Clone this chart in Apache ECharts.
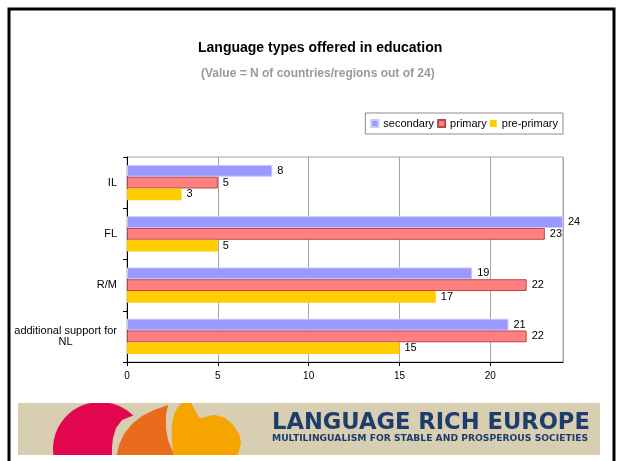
<!DOCTYPE html>
<html>
<head>
<meta charset="utf-8">
<script src="https://cdn.jsdelivr.net/npm/echarts@6/dist/echarts.min.js"></script>
<style>
  html, body { margin: 0; padding: 0; background: #fff; }
  #chart { width: 619px; height: 461px; }
</style>
</head>
<body>
<div id="chart"></div>
<script>
// Categories listed bottom-up (category axis grows upwards)
const categories = ['additional support for\nNL', 'R/M', 'FL', 'IL'];
const secondary  = [21, 19, 24, 8];
const primary    = [22, 22, 23, 5];
const prePrimary = [15, 17, 5, 3];
const xTicks = [0, 5, 10, 15, 20];

const FONT = '"Liberation Sans", Arial, sans-serif';
const LOGO_FONT = '"DejaVu Sans", "Liberation Sans", sans-serif';
const BEIGE = '#d8ceb2';

const chart = echarts.init(document.getElementById('chart'), null, { renderer: 'canvas' });

const valueLabel = {
  show: true, position: 'right', distance: 5,
  color: '#000', fontSize: 11, fontFamily: FONT
};

chart.setOption({
  backgroundColor: '#fff',
  animation: false,
  title: [
    {
      text: 'Language types offered in education',
      left: 193, top: 36,
      textStyle: { fontFamily: FONT, fontSize: 14, fontWeight: 'bold', color: '#000' }
    },
    {
      text: '(Value = N of countries/regions out of 24)',
      left: 196, top: 63,
      textStyle: { fontFamily: FONT, fontSize: 12, fontWeight: 'bold', color: '#9a9a9a' }
    }
  ],
  legend: {
    data: ['secondary', 'primary', 'pre-primary'],
    right: 56,
    top: 113,
    itemWidth: 7,
    itemHeight: 7,
    itemGap: 3,
    padding: [5, 5, 5, 5],
    borderColor: '#8c8c8c',
    borderWidth: 1,
    icon: 'rect',
    textStyle: { fontFamily: FONT, fontSize: 11, color: '#000' }
  },
  grid: {
    left: 127, right: 56, top: 157, bottom: 99,
    show: true, borderColor: '#a6a6a6', borderWidth: 1
  },
  xAxis: {
    type: 'value',
    min: 0, max: 24, interval: 5,
    axisLine: { show: true, lineStyle: { color: '#000', width: 1 } },
    axisTick: { show: true, length: 4, lineStyle: { color: '#000' } },
    axisLabel: {
      fontFamily: FONT, fontSize: 10, color: '#000', margin: 9,
      showMaxLabel: false,
      formatter: v => (xTicks.indexOf(v) >= 0 ? String(v) : '')
    },
    splitLine: { show: true, lineStyle: { color: '#a6a6a6', width: 1 } }
  },
  yAxis: {
    type: 'category',
    data: categories,
    axisLine: { show: true, lineStyle: { color: '#000', width: 1 } },
    axisTick: { show: true, length: 4, lineStyle: { color: '#000' } },
    axisLabel: {
      margin: 10,
      formatter: v => v.split('\n').map(s => '{c|' + s + '}').join('\n'),
      rich: { c: { fontFamily: FONT, fontSize: 11, color: '#000', align: 'center', lineHeight: 11 } }
    },
    splitLine: { show: false }
  },
  series: [
    {
      name: 'secondary', type: 'bar', data: secondary,
      barCategoryGap: '31%', barGap: '0%',
      itemStyle: { color: '#9999ff', borderColor: '#c8c8ff', borderWidth: 1 },
      label: valueLabel
    },
    {
      name: 'primary', type: 'bar', data: primary,
      barCategoryGap: '31%', barGap: '0%',
      itemStyle: { color: '#ff8080', borderColor: '#b84848', borderWidth: 1 },
      label: valueLabel
    },
    {
      name: 'pre-primary', type: 'bar', data: prePrimary,
      barCategoryGap: '31%', barGap: '0%',
      itemStyle: { color: '#ffcc00' },
      label: valueLabel
    }
  ],
  graphic: [
    // banner band
    { type: 'rect', shape: { x: 18, y: 403, width: 582, height: 52 },
      style: { fill: BEIGE }, silent: true },
    // crimson disc
    { type: 'circle', shape: { cx: 100, cy: 449, r: 47 },
      style: { fill: '#e2064f' }, silent: true },
    // bite taken out of the disc
    { type: 'polygon', silent: true,
      shape: { points: [[145, 414], [132, 416], [122, 420], [116, 428], [113, 438], [112, 447],
        [112, 458], [170, 458], [170, 398], [145, 398]] },
      style: { fill: BEIGE } },
    // orange leaf
    { type: 'polygon', silent: true,
      shape: { points: [[116, 458], [119, 445], [124, 434], [132, 424], [142, 416], [154, 410],
        [168, 405], [166, 415], [166, 428], [168, 440], [172, 450], [175, 458]] },
      style: { fill: '#e96b1c' } },
    // amber bubble
    { type: 'polygon', silent: true,
      shape: { smooth: 0.2, points: [[175, 458], [172, 440], [172, 425], [175, 412], [181, 404],
        [190, 402], [195, 410], [200, 418], [206, 417], [214, 415], [225, 418], [233, 425],
        [239, 434], [241, 443], [239, 451], [236, 458]] },
      style: { fill: '#f6a500' } },
    // trim shapes to the band
    { type: 'rect', shape: { x: 0, y: 455, width: 619, height: 6 },
      style: { fill: '#fff' }, silent: true },
    { type: 'rect', shape: { x: 0, y: 396, width: 619, height: 7 },
      style: { fill: '#fff' }, silent: true },
    { type: 'text', silent: true, left: 272, top: 412,
      style: { text: 'LANGUAGE RICH EUROPE', fill: '#1d3d6c',
        font: 'bold 22.6px ' + LOGO_FONT } },
    { type: 'text', silent: true, left: 272, top: 434,
      style: { text: 'MULTILINGUALISM FOR STABLE AND PROSPEROUS SOCIETIES', fill: '#1d3d6c',
        font: 'bold 9.2px ' + LOGO_FONT } },
    // slide frame
    { type: 'polyline', shape: { points: [[9, 461], [9, 9], [614, 9], [614, 461]] },
      style: { stroke: '#000', lineWidth: 3, fill: null }, silent: true }
  ]
});
</script>
</body>
</html>
